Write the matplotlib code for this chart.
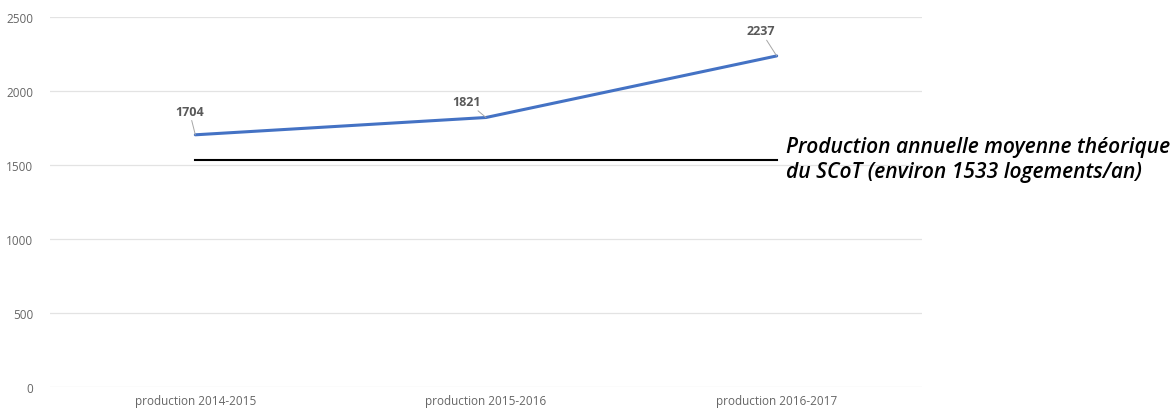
import matplotlib
matplotlib.use('Agg')
import matplotlib.pyplot as plt
from matplotlib import font_manager

# housing production per period
periods = ['production 2014-2015', 'production 2015-2016', 'production 2016-2017']
production = [1704, 1821, 2237]
scot_target = 1533
y_ticks = [0, 500, 1000, 1500, 2000, 2500]

# label offsets in points (dx, dy) from each point
label_offsets = [(-4.3, 17), (-13.7, 11.5), (-11.5, 18)]

plt.rcParams['font.family'] = ['Open Sans', 'DejaVu Sans']


def pick_font():
    # look for a semibold/bold italic face in a normal width
    for name in ['Open Sans', 'Lato', 'Noto Sans', 'Roboto']:
        for w in [600, 700]:
            for f in font_manager.fontManager.ttflist:
                if (f.name == name and f.style == 'italic' and f.weight == w
                        and f.stretch == 'normal' and 'ondensed' not in f.fname):
                    return font_manager.FontProperties(fname=f.fname)
    return font_manager.FontProperties(family='DejaVu Sans', style='italic', weight='bold')


note_font = pick_font()
note_font.set_size(15.1)

fig = plt.figure(figsize=(11.72, 4.14), dpi=100)
ax = fig.add_axes([50 / 1172, 1 - 388 / 414, 872 / 1172, 370 / 414])

x = list(range(len(periods)))
ax.plot(x, production, color='#4472C4', linewidth=2.2, zorder=3, solid_capstyle='round')
ax.plot([x[0], x[-1]], [scot_target, scot_target], color='black', linewidth=1.5, zorder=3)

for xi, v, (dx, dy) in zip(x, production, label_offsets):
    ax.annotate(str(v), xy=(xi, v), xytext=(dx, dy), textcoords='offset points',
                ha='center', va='center', fontsize=9, fontweight='bold', color='#595959',
                arrowprops=dict(arrowstyle='-', color='#a6a6a6', lw=0.7, shrinkA=0, shrinkB=0))

ax.text(786 / 1172, 1 - 160 / 414, 'Production annuelle moyenne théorique\ndu SCoT (environ 1533 logements/an)',
        transform=fig.transFigure, ha='left', va='center', fontproperties=note_font,
        color='black', linespacing=1.2)

ax.set_xlim(-0.5, 2.5)
ax.set_ylim(0, 2500)
ax.set_yticks(y_ticks)
ax.set_xticks(x)
ax.set_xticklabels(periods)
ax.grid(axis='y', color='#e3e3e3', linewidth=0.9)
ax.set_axisbelow(True)
for s in ax.spines.values():
    s.set_visible(False)
ax.tick_params(axis='both', length=0, labelsize=8.5, labelcolor='#666666')
ax.tick_params(axis='y', pad=12)
ax.tick_params(axis='x', pad=5)

fig.savefig('out.png', dpi=100, facecolor='white')
